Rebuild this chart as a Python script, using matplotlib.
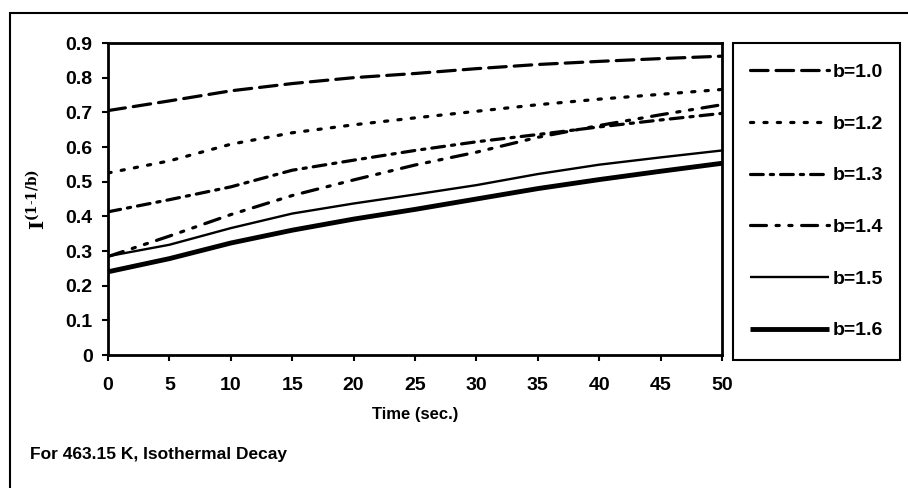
import matplotlib
matplotlib.use("Agg")
import matplotlib.pyplot as plt
from matplotlib.patches import Rectangle

# Time axis (s) and fitted curves for each exponent b
time_s = [0, 5, 10, 15, 20, 25, 30, 35, 40, 45, 50]
b_10 = [0.705, 0.733, 0.762, 0.783, 0.800, 0.812, 0.826, 0.838, 0.847, 0.855, 0.862]
b_12 = [0.525, 0.560, 0.608, 0.641, 0.664, 0.684, 0.703, 0.722, 0.738, 0.752, 0.766]
b_13 = [0.413, 0.448, 0.485, 0.533, 0.562, 0.590, 0.615, 0.636, 0.658, 0.678, 0.697]
b_14 = [0.284, 0.343, 0.405, 0.460, 0.505, 0.548, 0.585, 0.628, 0.662, 0.693, 0.722]
b_15 = [0.285, 0.318, 0.366, 0.408, 0.437, 0.463, 0.490, 0.522, 0.549, 0.570, 0.590]
b_16 = [0.240, 0.278, 0.323, 0.360, 0.392, 0.420, 0.450, 0.480, 0.506, 0.530, 0.553]
labels = ["b=1.0", "b=1.2", "b=1.3", "b=1.4", "b=1.5", "b=1.6"]
x_ticks = [0, 5, 10, 15, 20, 25, 30, 35, 40, 45, 50]
y_ticks = [0, 0.1, 0.2, 0.3, 0.4, 0.5, 0.6, 0.7, 0.8, 0.9]

series = [b_10, b_12, b_13, b_14, b_15, b_16]
styles = [
    dict(lw=2.3, ls=(0, (5.5, 2.5))),
    dict(lw=2.3, ls=(0, (1, 3.2))),
    dict(lw=2.3, ls=(0, (4, 2.2, 1, 2.2))),
    dict(lw=2.3, ls=(0, (5, 3, 1, 3, 1, 3))),
    dict(lw=1.7, ls="-"),
    dict(lw=3.5, ls="-"),
]

plt.rcParams["font.family"] = ["Liberation Sans", "DejaVu Sans"]
plt.rcParams["mathtext.fontset"] = "dejavuserif"
W, H = 908, 488
fig = plt.figure(figsize=(W / 100, H / 100), dpi=100)

# outer frame (only top and left edges fall inside the canvas)
fig.patches.append(Rectangle((10 / W, -0.1), 1.2, (H - 13) / H + 0.1,
                             transform=fig.transFigure, fill=False,
                             edgecolor="black", lw=1.5))

ax = fig.add_axes([108 / W, (H - 355) / H, (722 - 108) / W, (355 - 43) / H])
lines = []
for vals, st in zip(series, styles):
    (ln,) = ax.plot(time_s, vals, color="black", solid_capstyle="butt",
                    dash_capstyle="round", **st)
    lines.append(ln)

ax.set_xlim(0, 50)
ax.set_ylim(0, 0.9)
ax.set_xticks(x_ticks)
ax.set_yticks(y_ticks)
ax.set_xticklabels([str(v) for v in x_ticks])
ax.set_yticklabels(["0"] + [f"{v:.1f}" for v in y_ticks[1:]])
for sp in ax.spines.values():
    sp.set_linewidth(2)
ax.tick_params(axis="x", direction="out", length=4, width=1.5, pad=12,
               labelsize=14)
ax.tick_params(axis="y", direction="out", length=4, width=1.5, pad=7,
               labelsize=14)
for t in ax.get_xticklabels() + ax.get_yticklabels():
    t.set_fontweight("bold")

ax.set_xlabel("Time (sec.)", fontsize=12, fontweight="bold", labelpad=9)
ax.set_ylabel(r"$\mathbf{I}^{\mathbf{(1\text{-}1/b)}}$", fontsize=14,
              labelpad=12)

fig.text(30 / W, 1 - 455 / H, "For 463.15 K, Isothermal Decay", fontsize=12.5,
         fontweight="bold", va="center", ha="left")

# legend box
lx0, lx1, ly0, ly1 = 733, 900, 43, 360
fig.patches.append(Rectangle((lx0 / W, 1 - ly1 / H), (lx1 - lx0) / W,
                             (ly1 - ly0) / H, transform=fig.transFigure,
                             fill=False, edgecolor="black", lw=1.5))
fig.legend(lines, labels, loc="center",
           bbox_to_anchor=(lx0 / W, 1 - ly1 / H, (lx1 - lx0) / W, (ly1 - ly0) / H),
           frameon=False, prop=dict(size=14, weight="bold"),
           handlelength=4.1, handletextpad=0.2, labelspacing=1.75,
           borderaxespad=0)

fig.savefig("out.png", dpi=100)
